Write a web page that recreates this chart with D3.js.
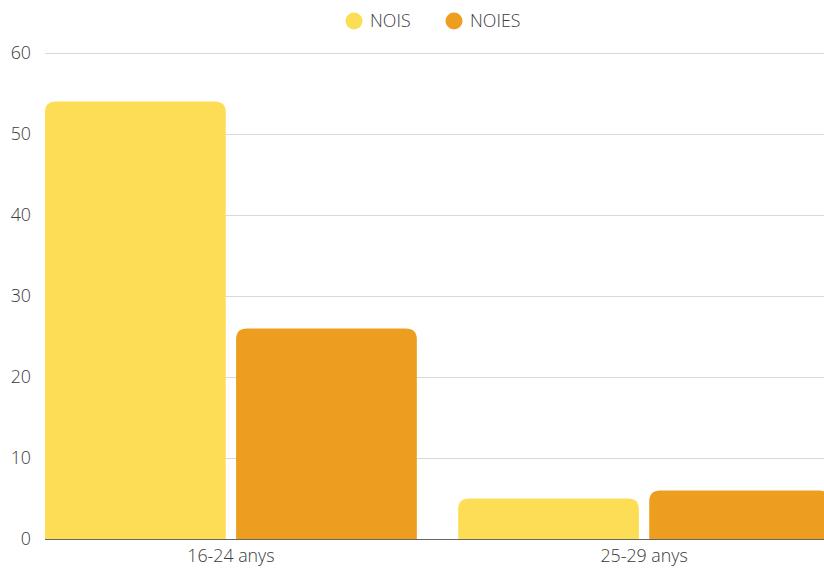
<!DOCTYPE html>
<html>
<head>
<meta charset="utf-8">
<script src="https://cdn.jsdelivr.net/npm/d3@7"></script>
<style>
  body { margin: 0; background: #fff; }
  svg { display: block; font-family: 'Open Sans', sans-serif; font-weight: 300; }
</style>
</head>
<body>
<div id="chart"></div>
<script>
const categories = ['16-24 anys', '25-29 anys'];
const seriesNames = ['NOIS', 'NOIES'];
const nois = [54, 5];
const noies = [26, 6];
const yTicks = [0, 10, 20, 30, 40, 50, 60];
const colors = ['#FEDD56', '#ED9E1F'];

const dimensions = {
  width: 824,
  height: 569,
  margin: { top: 53, bottom: 30, left: 45, right: 0 },
};

const svg = d3
  .select('#chart')
  .append('svg')
  .attr('width', dimensions.width)
  .attr('height', dimensions.height);

const table = categories.map((c, i) => ({ category: c, values: [nois[i], noies[i]] }));

const yScale = d3.scaleLinear().domain([0, 60]).range([539, 53]);

const xScale = d3
  .scaleBand()
  .domain(categories)
  .range([45, 830])
  .paddingInner(0.1)
  .paddingOuter(0);

const xSub = d3
  .scaleBand()
  .domain(seriesNames)
  .range([0, xScale.bandwidth()])
  .paddingInner(0.054);

// grid
svg
  .append('g')
  .selectAll('line')
  .data(yTicks.filter((d) => d > 0))
  .join('line')
  .attr('x1', 45)
  .attr('x2', 824)
  .attr('y1', (d) => yScale(d) + 0.5)
  .attr('y2', (d) => yScale(d) + 0.5)
  .attr('stroke', '#d9d9d9')
  .attr('stroke-width', 1);

// y labels
svg
  .append('g')
  .selectAll('text')
  .data(yTicks)
  .join('text')
  .attr('x', 31)
  .attr('y', (d) => yScale(d))
  .attr('dy', '0.35em')
  .attr('text-anchor', 'end')
  .attr('fill', '#3a3a3a')
  .style('font-size', '17.8px')
  .text((d) => d);

// rounded-top bar path
const r = 11;
function barPath(x, y, w, h) {
  const rr = Math.min(r, h, w / 2);
  return `M${x},${y + h}V${y + rr}Q${x},${y} ${x + rr},${y}H${x + w - rr}Q${x + w},${y} ${x + w},${y + rr}V${y + h}Z`;
}

const groups = svg
  .append('g')
  .selectAll('g')
  .data(table)
  .join('g')
  .attr('transform', (d) => `translate(${xScale(d.category)},0)`);

groups
  .selectAll('path')
  .data((d) => d.values.map((v, i) => ({ key: seriesNames[i], value: v, i })))
  .join('path')
  .attr('fill', (d) => colors[d.i])
  .attr('d', (d) =>
    barPath(xSub(d.key), yScale(d.value), xSub.bandwidth(), yScale(0) - yScale(d.value))
  );

// baseline
svg
  .append('line')
  .attr('x1', 45)
  .attr('x2', 824)
  .attr('y1', 539.5)
  .attr('y2', 539.5)
  .attr('stroke', '#666')
  .attr('stroke-width', 1);

// x labels
svg
  .append('g')
  .selectAll('text')
  .data(categories)
  .join('text')
  .attr('x', (d) => xScale(d) + xScale.bandwidth() / 2)
  .attr('y', 562)
  .attr('text-anchor', 'middle')
  .attr('fill', '#3a3a3a')
  .style('font-size', '17.8px')
  .text((d) => d);

// legend
const legendX = [354, 454];
const legend = svg
  .append('g')
  .selectAll('g')
  .data(seriesNames)
  .join('g')
  .attr('transform', (d, i) => `translate(${legendX[i]},21)`);

legend.append('circle').attr('r', 8.5).attr('fill', (d, i) => colors[i]);
legend
  .append('text')
  .attr('x', 16)
  .attr('dy', '0.35em')
  .attr('fill', '#3a3a3a')
  .style('font-size', '17.8px')
  .text((d) => d);
</script>
</body>
</html>
